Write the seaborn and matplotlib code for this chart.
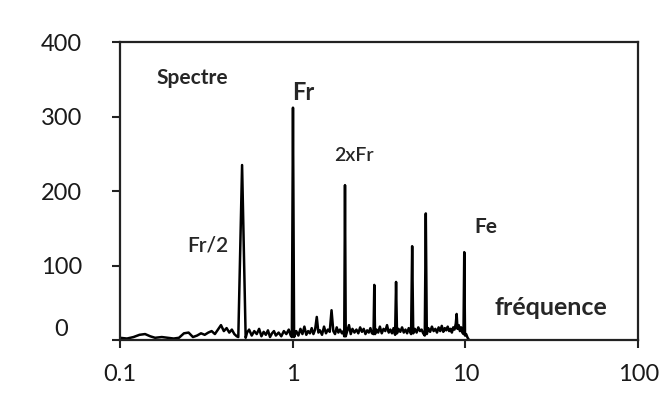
import matplotlib
matplotlib.use("Agg")
import matplotlib.pyplot as plt
import matplotlib.transforms as mtransforms
import seaborn as sns

# spectrum: frequency (log scale) and amplitude
freq = [
    0.100, 0.110, 0.120, 0.130, 0.140, 0.150, 0.160, 0.175, 0.190, 0.205,
    0.220, 0.235, 0.250, 0.265, 0.280, 0.295, 0.310, 0.325, 0.340, 0.355,
    0.370, 0.385, 0.400, 0.415, 0.430, 0.445, 0.460, 0.475,
    0.485, 0.510, 0.535,
    0.545, 0.560, 0.580, 0.600, 0.620, 0.640, 0.660, 0.680, 0.700, 0.720,
    0.740, 0.760, 0.780, 0.800, 0.830, 0.860, 0.890, 0.920, 0.950, 0.975,
    0.990, 1.005, 1.020,
    1.05, 1.08, 1.11, 1.14, 1.17, 1.20, 1.23, 1.26, 1.29, 1.32,
    1.35, 1.38, 1.41, 1.44, 1.48, 1.52, 1.56, 1.60, 1.64, 1.68,
    1.72, 1.76, 1.80, 1.84, 1.88, 1.93, 1.97,
    1.99, 2.01, 2.03,
    2.07, 2.12, 2.17, 2.22, 2.28, 2.34, 2.40, 2.46, 2.52, 2.58,
    2.64, 2.70, 2.76, 2.82, 2.88, 2.94, 2.97, 3.00, 3.06, 3.13,
    3.20, 3.28, 3.36, 3.44, 3.52, 3.60, 3.68, 3.76, 3.84, 3.92,
    3.97, 4.02, 4.10, 4.20, 4.30, 4.40, 4.50, 4.60, 4.70, 4.85,
    4.92, 4.99, 5.10, 5.22, 5.34, 5.46, 5.58, 5.70, 5.82, 5.90,
    5.98, 6.10, 6.25, 6.40, 6.55, 6.70, 6.85, 7.00, 7.15, 7.30,
    7.45, 7.60, 7.75, 7.90, 8.05, 8.20, 8.35, 8.50, 8.65, 8.80,
    8.90, 9.00, 9.15, 9.30, 9.45, 9.60, 9.75, 9.85, 9.95, 10.1,
    10.3, 10.5,
]
amp = [
    3, 2, 4, 7, 8, 5, 3, 4, 3, 2,
    3, 9, 10, 4, 6, 9, 7, 10, 12, 8,
    14, 20, 12, 16, 10, 14, 8, 5,
    4, 235, 3,
    10, 14, 6, 12, 8, 15, 5, 11, 7, 13,
    4, 9, 12, 6, 10, 5, 12, 8, 14, 6,
    4, 312, 4,
    12, 6, 15, 8, 18, 7, 12, 9, 16, 8,
    14, 31, 10, 13, 7, 18, 9, 14, 11, 40,
    12, 8, 17, 10, 14, 9, 12,
    5, 208, 5,
    12, 20, 8, 15, 10, 14, 9, 17, 11, 15,
    8, 13, 10, 16, 9, 8, 74, 8, 14, 10,
    18, 9, 15, 12, 20, 10, 14, 9, 16, 7,
    78, 9, 15, 11, 17, 10, 14, 9, 16, 8,
    126, 9, 15, 10, 17, 12, 14, 9, 6, 170,
    8, 16, 11, 18, 12, 15, 10, 17, 12, 19,
    11, 16, 13, 18, 12, 15, 10, 17, 14, 22,
    35, 15, 20, 12, 17, 10, 8, 118, 6, 8,
    3, 0,
]

x_ticks = [0.1, 1, 10, 100]
x_tick_labels = ["0.1", "1", "10", "100"]
y_ticks = [0, 100, 200, 300, 400]

sns.set_style("ticks")
plt.rcParams["font.family"] = ["Lato", "DejaVu Sans"]

fig = plt.figure(figsize=(6.62, 3.94), dpi=100)
ax = fig.add_axes([0.181, 0.137, 0.783, 0.756])

sns.lineplot(x=freq, y=amp, color="black", linewidth=1.8, estimator=None, ax=ax)

ax.set_xscale("log")
ax.set_xlim(0.1, 100)
ax.set_ylim(0, 400)
ax.set_xticks(x_ticks)
ax.set_xticklabels(x_tick_labels)
ax.minorticks_off()
ax.set_yticks(y_ticks)
ax.tick_params(axis="both", labelsize=17, length=6, width=1.5, color="#222222",
               labelcolor="#1a1a1a")
ax.tick_params(axis="x", pad=11)
ax.tick_params(axis="y", pad=36)
for lab in ax.get_yticklabels():
    lab.set_horizontalalignment("center")
# the "0" label sits a little above its tick in the original
lab0 = ax.get_yticklabels()[0]
lab0.set_transform(lab0.get_transform()
                   + mtransforms.ScaledTranslation(0, 9 / 72, fig.dpi_scale_trans))
for sp in ax.spines.values():
    sp.set_visible(True)
    sp.set_linewidth(1.6)
    sp.set_color("#222222")

ax.text(0.164, 352, "Spectre", fontsize=15, fontweight="bold", va="center")
ax.text(0.99, 333, "Fr", fontsize=17, fontweight="bold", va="center")
ax.text(1.75, 248, "2xFr", fontsize=14, fontweight="semibold", va="center")
ax.text(0.244, 127, "Fr/2", fontsize=15, fontweight="semibold", va="center")
ax.text(11.3, 152, "Fe", fontsize=15, fontweight="bold", va="center")
ax.text(14.7, 44, "fréquence", fontsize=18, fontweight="bold", va="center")

fig.savefig("out.png", dpi=100)
